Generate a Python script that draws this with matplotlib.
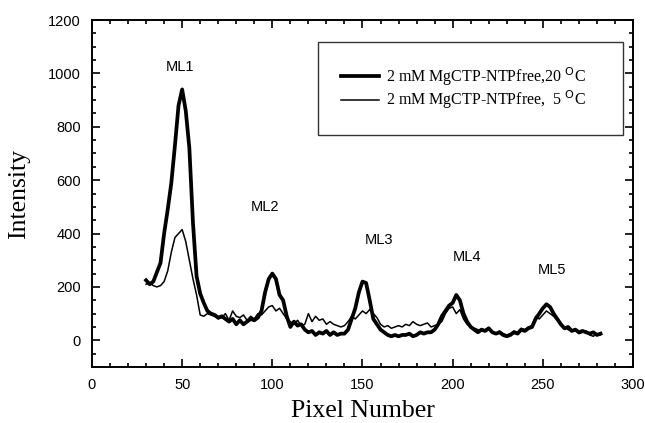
"""Intensity profiles along the pixel axis for two temperatures (ML1-ML5 peaks)."""

import matplotlib

matplotlib.use("Agg")
import matplotlib.pyplot as plt
import numpy as np
from matplotlib.ticker import MultipleLocator

# pixel positions (every 2 pixels)
pixel = np.arange(30, 284, 2)

# 2 mM MgCTP-NTPfree, 20 C (thick trace)
intensity_20c = [
    225, 210, 220, 255, 290, 400, 490, 590, 730, 880,
    940, 860, 720, 440, 240, 175, 140, 110, 100, 95,
    85, 90, 80, 70, 80, 60, 75, 60, 70, 80,
    75, 85, 110, 180, 230, 250, 230, 170, 150, 90,
    50, 70, 55, 60, 40, 30, 35, 20, 30, 25,
    35, 20, 30, 20, 25, 25, 40, 80, 120, 180,
    220, 215, 150, 80, 60, 40, 30, 20, 15, 20,
    15, 20, 20, 25, 15, 20, 30, 25, 30, 30,
    40, 60, 90, 110, 130, 140, 170, 150, 100, 70,
    50, 40, 30, 40, 35, 45, 30, 25, 30, 20,
    15, 20, 30, 25, 40, 35, 45, 50, 80, 100,
    120, 135, 125, 100, 80, 60, 45, 50, 35, 40,
    30, 35, 30, 25, 30, 20, 25,
]

# 2 mM MgCTP-NTPfree, 5 C (thin trace)
intensity_5c = [
    210, 215, 205, 200, 205, 220, 260, 330, 385, 400,
    415, 370, 300, 230, 170, 95, 90, 100, 95, 90,
    80, 85, 100, 75, 110, 90, 85, 95, 75, 90,
    80, 100, 95, 110, 125, 130, 110, 120, 100, 80,
    70, 60, 75, 55, 60, 100, 70, 90, 75, 80,
    60, 70, 60, 55, 50, 55, 70, 90, 80, 95,
    110, 100, 115, 100, 85, 60, 50, 55, 45, 50,
    55, 50, 60, 55, 70, 60, 55, 60, 65, 50,
    55, 60, 70, 100, 120, 125, 100, 115, 80, 60,
    50, 45, 40, 35, 40, 45, 30, 25, 35, 25,
    20, 25, 35, 30, 45, 40, 50, 55, 90, 80,
    95, 110, 100, 90, 75, 55, 50, 40, 35, 40,
    25, 30, 35, 20, 15, 25, 20,
]

peak_labels = ["ML1", "ML2", "ML3", "ML4", "ML5"]
peak_label_x = [49, 96, 159, 208, 255]
peak_label_y = [1025, 500, 375, 312, 262]

serif = ["Liberation Serif", "DejaVu Serif"]
sans = ["Liberation Sans", "DejaVu Sans"]

fig = plt.figure(figsize=(6.45, 4.23), dpi=100)
ax = fig.add_axes([0.1426, 0.1324, 0.8388, 0.8203])

ax.plot(pixel, intensity_20c, color="black", linewidth=2.7,
        label=r"2 mM MgCTP-NTPfree,20 $^{\mathrm{O}}$C")
ax.plot(pixel, intensity_5c, color="black", linewidth=1.1,
        label=r"2 mM MgCTP-NTPfree,  5 $^{\mathrm{O}}$C")

for txt, px, py in zip(peak_labels, peak_label_x, peak_label_y):
    ax.text(px, py, txt, ha="center", va="center", fontsize=10.5, family=sans)

ax.set_xlim(0, 300)
ax.set_ylim(-100, 1200)
ax.xaxis.set_major_locator(MultipleLocator(50))
ax.xaxis.set_minor_locator(MultipleLocator(10))
ax.yaxis.set_major_locator(MultipleLocator(200))
ax.yaxis.set_minor_locator(MultipleLocator(50))
ax.tick_params(which="both", direction="in", top=True, right=True, width=1.2)
ax.tick_params(which="major", length=6, labelsize=10.5, pad=8)
ax.tick_params(which="minor", length=3)
for lab in ax.get_xticklabels() + ax.get_yticklabels():
    lab.set_family(sans)
for sp in ax.spines.values():
    sp.set_linewidth(1.4)

ax.set_xlabel("Pixel Number", fontsize=18.5, family=serif, labelpad=6)
ax.set_ylabel("Intensity", fontsize=18.5, family=serif, labelpad=13)

# legend box: spans pixel 317..622 horizontally, top at 42
leg = ax.legend(loc="upper left", bbox_to_anchor=(0.4177, 0.9366, 0.5637, 0.0),
                mode="expand", prop={"family": serif, "size": 11.5},
                frameon=True, fancybox=False, edgecolor="black",
                handlelength=2.4, handletextpad=0.4, borderpad=1.45,
                labelspacing=0.05, borderaxespad=0.0)
leg.get_frame().set_linewidth(1.0)

fig.savefig("out.png", dpi=100)
